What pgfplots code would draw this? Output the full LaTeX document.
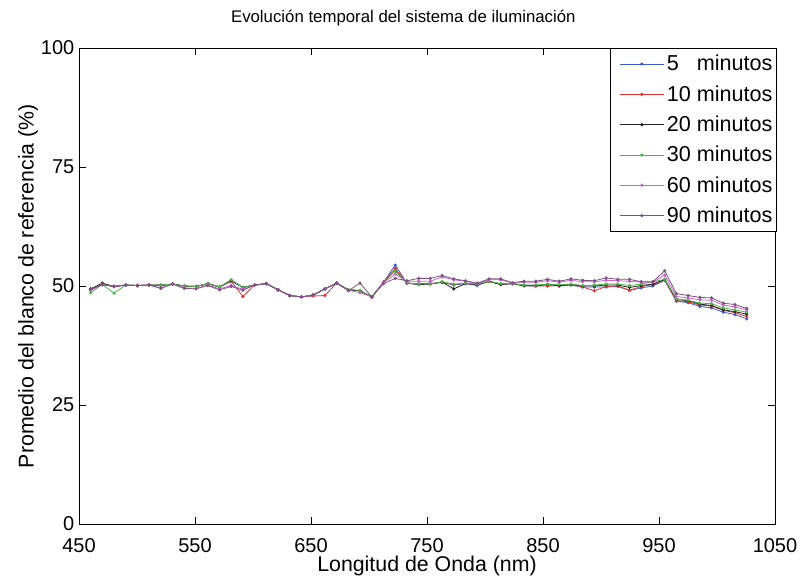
\documentclass[border=0pt]{standalone}
\usepackage{pgfplots}
\pgfplotsset{compat=1.18}
\usepackage{pgfplotstable}
\usepackage{fontspec}
\setmainfont{Liberation Sans}

\definecolor{cB}{RGB}{60,90,200}
\definecolor{cR}{RGB}{235,45,45}
\definecolor{cK}{RGB}{35,35,35}
\definecolor{cG}{RGB}{70,185,70}
\definecolor{cP}{RGB}{200,100,200}
\definecolor{cU}{RGB}{125,80,130}

\pgfplotstableread{
x B R K G P U
460.0 49.3 49.2 49.4 48.6 49.1 49.3
470.1 50.3 50.3 50.6 50.3 50.3 50.3
480.2 49.9 49.9 49.9 48.5 49.9 49.9
490.3 50.2 50.2 50.2 50.2 50.2 50.2
500.4 50.1 50.1 50.1 50.1 50.1 50.1
510.5 50.2 50.2 50.2 50.2 50.2 50.2
520.6 50.1 50.1 50.2 50.2 49.6 49.5
530.7 50.4 50.4 50.4 50.4 50.4 50.4
540.8 50.0 50.0 50.0 50.0 49.6 49.5
550.9 49.9 49.9 49.9 49.9 49.5 49.4
561.0 50.5 50.5 50.5 50.5 50.2 50.1
571.1 49.8 49.8 49.8 49.8 49.4 49.2
581.2 51.0 51.0 51.2 51.3 50.1 49.9
591.3 49.7 47.8 49.7 49.7 49.3 49.1
601.4 50.2 50.2 50.2 50.2 50.2 50.2
611.5 50.5 50.5 50.5 50.5 50.5 50.5
621.6 49.2 49.2 49.2 49.2 49.2 49.2
631.7 48.0 48.0 48.0 48.0 48.0 48.0
641.8 47.7 47.7 47.7 47.7 47.7 47.7
651.9 48.1 47.9 48.1 48.1 48.1 48.1
662.0 49.4 48.0 49.4 49.4 49.4 49.4
672.1 50.6 50.6 50.6 50.6 50.6 50.6
682.2 49.2 49.2 49.2 49.2 49.1 49.0
692.3 49.0 49.0 49.0 49.1 48.6 50.6
702.4 47.7 47.7 47.7 47.7 47.7 47.7
712.5 50.8 50.8 50.8 50.8 50.7 50.5
722.6 54.4 53.7 53.2 53.2 52.5 51.6
732.7 50.6 50.6 50.6 50.6 51.0 51.1
742.8 50.5 50.4 50.3 50.4 51.0 51.6
752.9 50.5 50.5 50.4 50.4 51.0 51.6
763.0 50.8 50.8 50.8 50.9 51.9 52.2
773.1 50.2 50.3 49.4 50.4 51.3 51.5
783.2 50.5 50.6 50.5 50.6 51.0 51.1
793.3 50.1 50.3 50.3 50.4 50.5 50.6
803.4 51.0 50.9 51.0 51.0 51.3 51.5
813.5 50.4 50.4 50.3 50.5 51.3 51.5
823.6 50.5 50.5 50.5 50.5 50.6 50.7
833.7 50.0 50.1 50.1 50.2 50.8 51.0
843.8 50.0 50.0 50.1 50.2 50.8 51.0
853.9 50.3 50.0 50.3 50.4 51.1 51.4
864.0 50.0 50.1 50.1 50.3 50.8 51.0
874.1 50.2 50.3 50.3 50.4 51.2 51.5
884.2 49.8 49.8 50.0 50.1 50.9 51.2
894.3 49.8 49.0 50.0 50.2 50.9 51.1
904.4 49.8 49.9 50.2 50.4 51.2 51.7
914.5 49.9 50.0 50.2 50.4 51.1 51.4
924.6 49.1 49.1 49.7 50.1 51.0 51.4
934.7 49.6 49.9 50.1 50.4 50.8 50.9
944.8 50.0 50.3 50.4 50.9 50.8 50.9
954.9 51.2 51.3 51.4 51.4 52.3 53.2
965.0 46.8 46.9 47.2 47.3 47.8 48.4
975.1 46.5 46.7 46.9 47.0 47.5 48.0
985.2 45.7 46.0 46.2 46.4 47.1 47.6
995.3 45.4 45.8 45.9 46.3 47.0 47.5
1005.4 44.5 44.9 45.0 45.4 46.0 46.4
1015.5 44.0 44.4 44.6 45.0 45.6 46.1
1025.6 43.1 43.6 44.1 44.5 45.0 45.3
}\datatable

\begin{document}
\begin{tikzpicture}
\begin{axis}[
  scale only axis,
  width=522pt, height=357pt,
  xmin=450, xmax=1050, ymin=0, ymax=100,
  xtick={450,550,650,750,850,950,1050},
  ytick={0,25,50,75,100},
  tick align=inside,
  major tick length=5pt,
  axis line style={line width=0.6pt},
  every tick/.style={black, line width=0.5pt},
  /pgf/number format/assume math mode=true,
  /pgf/number format/set thousands separator={},
  tick label style={font=\fontsize{15}{17}\selectfont},
  xticklabel style={yshift=-7pt},
  label style={font=\fontsize{16}{18}\selectfont},
  every axis title shift=0pt,
  title style={font=\fontsize{12.6}{14}\selectfont, at={(axis description cs:0.466,1.063)}, anchor=center},
  title={Evolución temporal del sistema de iluminación},
  xlabel={Longitud de Onda (nm)},
  ylabel={Promedio del blanco de referencia (\%)},
  xlabel style={at={(axis description cs:0.5,-0.088)}, anchor=center},
  ylabel style={at={(axis description cs:-0.073,0.5)}, anchor=center},
  every axis plot/.append style={line width=0.6pt, mark=*, mark size=0.9pt},
  legend cell align=left,
  legend style={at={(1.003,1)}, anchor=north east, draw=black, line width=0.8pt,
    font=\fontsize{16.2}{19}\selectfont, row sep=5.5pt, inner xsep=1pt, inner ysep=3pt},
  legend image code/.code={\path (0pt,0pt); \draw[mark repeat=2,mark phase=2,#1] plot coordinates {(6pt,0pt)(22.5pt,0pt)(39pt,0pt)};},
]
\addplot[cB, mark options={fill=cB}] table[x=x,y=B] {\datatable};
\addplot[cR, mark options={fill=cR}] table[x=x,y=R] {\datatable};
\addplot[cK, mark options={fill=cK}] table[x=x,y=K] {\datatable};
\addplot[cG, mark options={fill=cG}] table[x=x,y=G] {\datatable};
\addplot[cP, mark options={fill=cP}] table[x=x,y=P] {\datatable};
\addplot[cU, mark options={fill=cU}] table[x=x,y=U] {\datatable};
\legend{5\hphantom{0} minutos, 10 minutos, 20 minutos, 30 minutos, 60 minutos, 90 minutos}
\end{axis}
\pgfresetboundingbox
\path (current axis.south west) ++(-59.25pt,-39pt) rectangle ++(605.25pt,432pt);
\end{tikzpicture}
\end{document}
